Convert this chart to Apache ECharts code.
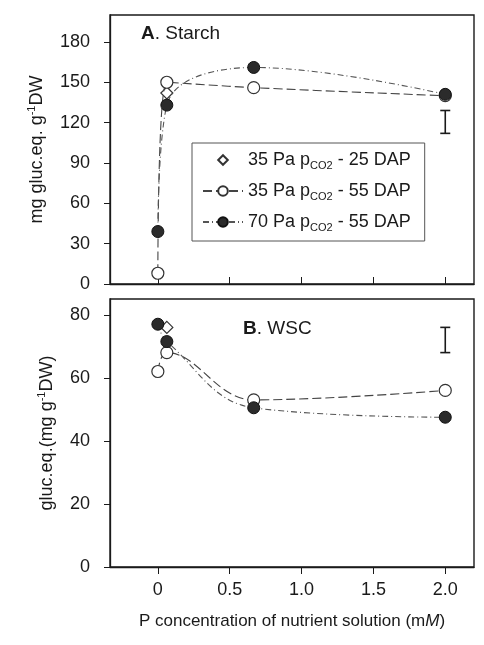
<!DOCTYPE html>
<html>
<head>
<meta charset="utf-8">
<script src="https://cdn.jsdelivr.net/npm/echarts@6/dist/echarts.min.js"></script>
<style>
  html, body { margin: 0; padding: 0; background: #fff; }
  #chart { width: 484px; height: 645px; }
</style>
</head>
<body>
<div id="chart"></div>
<script>
// P concentration (mM)
var xP = [0, 0.0625, 0.667, 2.0];
var xTicks = [0, 0.5, 1.0, 1.5, 2.0];

// A. Starch (mg gluc.eq. g-1 DW)
var starch35_25 = [[0.0625, 142]];
var starch35_55 = [8, 150, 146, 140];
var starch70_55 = [39, 133, 161, 141];
var starchErr = [[2.0, 112, 129]];
var starchTicks = [0, 30, 60, 90, 120, 150, 180];

// B. WSC (gluc.eq. mg g-1 DW)
var wsc35_25 = [[0.0625, 76]];
var wsc35_55 = [62, 68, 53, 56];
var wsc70_55 = [77, 71.5, 50.5, 47.5];
var wscErr = [[2.0, 68, 76]];
var wscTicks = [0, 20, 40, 60, 80];

var names = ['35 Pa 25', '35 Pa 55', '70 Pa 55'];
var legendText = {
    '35 Pa 25': '{t|35 Pa p}{s|CO2}{t| - 25 DAP}',
    '35 Pa 55': '{t|35 Pa p}{s|CO2}{t| - 55 DAP}',
    '70 Pa 55': '{t|70 Pa p}{s|CO2}{t| - 55 DAP}'
};

function pairs(xs, ys) {
    return ys.map(function (y, i) { return [xs[i], y]; });
}

var font = 'Liberation Sans, Arial, sans-serif';
var ink = '#1a1a1a';

function xAxisFor(gridIndex, showLabels) {
    return {
        type: 'value', gridIndex: gridIndex, min: -0.333, max: 2.2,
        axisLine: { onZero: false, lineStyle: { color: ink, width: 1.3 } },
        axisTick: { customValues: xTicks, inside: !showLabels, length: 7, lineStyle: { color: ink } },
        axisLabel: {
            show: showLabels, customValues: xTicks, margin: 14,
            color: ink, fontSize: 18, fontFamily: font,
            formatter: function (v) { return v === 0 ? '0' : v.toFixed(1); }
        },
        splitLine: { show: false },
        name: showLabels ? 'P concentration of nutrient solution (m{i|M})' : '',
        nameLocation: 'middle', nameGap: 46,
        nameTextStyle: { color: ink, fontSize: 17, fontFamily: font,
            rich: { i: { fontSize: 17, fontStyle: 'italic', fontFamily: font, color: ink } } }
    };
}

function yAxisFor(gridIndex, max, ticks, name, gap) {
    return {
        type: 'value', gridIndex: gridIndex, min: 0, max: max,
        axisLine: { show: true, onZero: false, lineStyle: { color: ink, width: 1.3 } },
        axisTick: { show: true, customValues: ticks, length: 6, lineStyle: { color: ink } },
        axisLabel: { customValues: ticks, margin: 20, color: ink, fontSize: 18, fontFamily: font },
        splitLine: { show: false },
        name: name, nameLocation: 'middle', nameGap: gap,
        nameTextStyle: {
            color: ink, fontSize: 18, fontFamily: font,
            rich: {
                a: { fontSize: 18, fontFamily: font, color: ink, lineHeight: 22 },
                b: { fontSize: 11, fontFamily: font, color: ink, verticalAlign: 'top', lineHeight: 22 }
            }
        }
    };
}

var openSym = { color: '#fff', borderColor: '#333', borderWidth: 1.2 };
var fillSym = { color: '#2b2b2b', borderColor: '#111', borderWidth: 1 };

function errSeries(xi, yi, data) {
    return {
        type: 'custom', xAxisIndex: xi, yAxisIndex: yi, silent: true,
        encode: { x: 0, y: [1, 2] },
        data: data,
        renderItem: function (params, api) {
            var lo = api.coord([api.value(0), api.value(1)]);
            var hi = api.coord([api.value(0), api.value(2)]);
            var w = 5;
            var st = { stroke: ink, lineWidth: 1.6 };
            return {
                type: 'group',
                children: [
                    { type: 'line', shape: { x1: lo[0], y1: lo[1], x2: hi[0], y2: hi[1] }, style: st },
                    { type: 'line', shape: { x1: lo[0] - w, y1: lo[1], x2: lo[0] + w, y2: lo[1] }, style: st },
                    { type: 'line', shape: { x1: hi[0] - w, y1: hi[1], x2: hi[0] + w, y2: hi[1] }, style: st }
                ]
            };
        }
    };
}

function panelSeries(idx, d25, d55, d70, err) {
    return [
        {
            // markers only, the line is kept invisible so the legend icon stays small
            name: names[0], type: 'line', xAxisIndex: idx, yAxisIndex: idx,
            symbol: 'diamond', symbolSize: 12, itemStyle: openSym, z: 3,
            lineStyle: { opacity: 0, width: 0 },
            data: d25
        },
        {
            name: names[1], type: 'line', xAxisIndex: idx, yAxisIndex: idx, smooth: 0.4,
            symbol: 'circle', symbolSize: 12, itemStyle: openSym, z: 4,
            lineStyle: { color: '#444', width: 1.1, type: [9, 4] },
            data: pairs(xP, d55)
        },
        {
            name: names[2], type: 'line', xAxisIndex: idx, yAxisIndex: idx, smooth: 0.4,
            symbol: 'circle', symbolSize: 12, itemStyle: fillSym, z: 5,
            lineStyle: { color: '#555', width: 1.1, type: [6, 3, 1, 3] },
            data: pairs(xP, d70)
        },
        errSeries(idx, idx, err)
    ];
}

var titleRich = {
    b: { fontSize: 19, fontWeight: 'bold', color: ink, fontFamily: font },
    n: { fontSize: 19, fontWeight: 'normal', color: ink, fontFamily: font }
};

var chart = echarts.init(document.getElementById('chart'), null, { renderer: 'canvas' });
chart.setOption({
    backgroundColor: '#fff',
    animation: false,
    textStyle: { fontFamily: font },
    title: [
        { text: '{b|A}{n|. Starch}', left: 136, top: 19,
          textStyle: { fontWeight: 'normal', rich: titleRich } },
        { text: '{b|B}{n|. WSC}', left: 238, top: 314,
          textStyle: { fontWeight: 'normal', rich: titleRich } }
    ],
    grid: [
        { left: 110, right: 10, top: 15, height: 269, show: true, borderColor: ink, borderWidth: 1.4, backgroundColor: 'transparent' },
        { left: 110, right: 10, top: 299, height: 268, show: true, borderColor: ink, borderWidth: 1.4, backgroundColor: 'transparent' }
    ],
    legend: {
        data: names, orient: 'vertical', left: 192, top: 143,
        padding: [8, 14, 8, 10], itemGap: 11,
        itemWidth: 40, itemHeight: 12,
        borderColor: '#555', borderWidth: 1, backgroundColor: '#fff',
        formatter: function (n) { return legendText[n]; },
        textStyle: {
            color: ink, fontFamily: font,
            rich: {
                t: { fontSize: 18, fontFamily: font, color: ink, lineHeight: 22 },
                s: { fontSize: 11, fontFamily: font, color: ink, verticalAlign: 'bottom', lineHeight: 22 }
            }
        }
    },
    xAxis: [xAxisFor(0, false), xAxisFor(1, true)],
    yAxis: [
        yAxisFor(0, 200, starchTicks, '{a|mg gluc.eq. g}{b|-1}{a|DW}', 62),
        yAxisFor(1, 85, wscTicks, '{a|gluc.eq.(mg g}{b|-1}{a|DW)}', 52)
    ],
    series: panelSeries(0, starch35_25, starch35_55, starch70_55, starchErr)
        .concat(panelSeries(1, wsc35_25, wsc35_55, wsc70_55, wscErr))
});
</script>
</body>
</html>
